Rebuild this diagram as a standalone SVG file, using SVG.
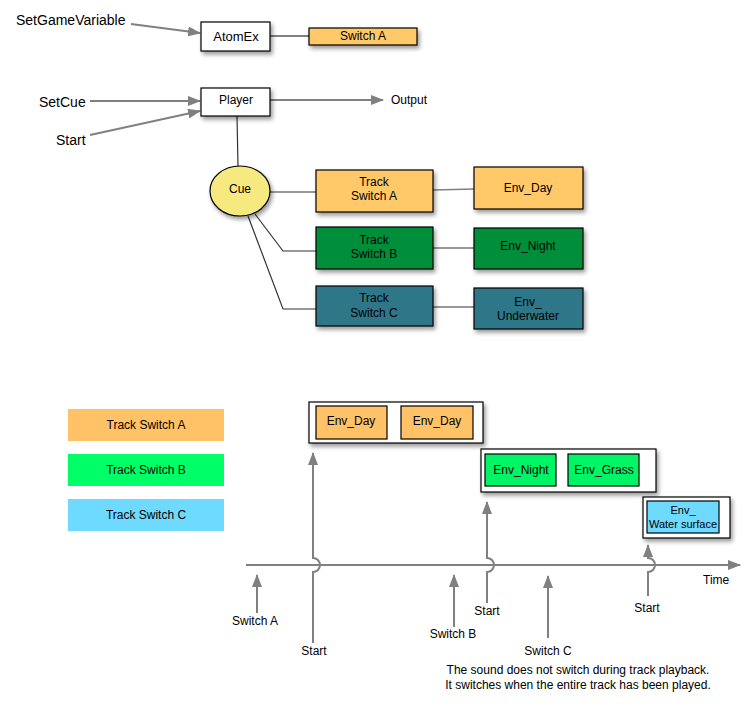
<svg xmlns="http://www.w3.org/2000/svg" width="753" height="708" viewBox="0 0 753 708">
<defs>
<filter id="sh" x="-20%" y="-20%" width="150%" height="170%">
<feDropShadow dx="2" dy="3" stdDeviation="2" flood-color="#000" flood-opacity="0.4"/>
</filter>
<marker id="ah" markerUnits="userSpaceOnUse" markerWidth="13" markerHeight="10" refX="12" refY="5" orient="auto">
<path d="M0,0 L13,5 L0,10 z" fill="#808080"/>
</marker>
<style>
text{font-family:"Liberation Sans",Arial,sans-serif;font-size:12px;fill:#000}
.big{font-size:14px}
.md{font-size:13px}
.sm{font-size:11px}
.c{text-anchor:middle}
.box{stroke:#000;stroke-width:1.2}
.g{stroke:#808080;stroke-width:2;fill:none}
.k{stroke:#333;stroke-width:1.2;fill:none}
.orange{fill:#FFC96B}
.lorange{fill:#FFC266}
</style>
</defs>

<g id="connectors">
<line class="g" x1="131" y1="24" x2="200" y2="33" marker-end="url(#ah)"/>
<line class="g" x1="90" y1="101" x2="200" y2="101" marker-end="url(#ah)"/>
<line class="g" x1="90" y1="135" x2="200" y2="111" marker-end="url(#ah)"/>
<line class="g" x1="270" y1="100" x2="383" y2="100" marker-end="url(#ah)"/>
<line class="g" x1="270" y1="36" x2="309" y2="36"/>
<line class="k" x1="237" y1="116" x2="238" y2="166"/>
<line class="k" x1="270" y1="192" x2="316" y2="192"/>
<polyline class="k" points="255,214 283,251 316,251"/>
<polyline class="k" points="248,216 283,309 316,309"/>
<line class="g" x1="433" y1="190" x2="474" y2="189" style="stroke-width:1.5"/>
<line class="k" x1="433" y1="248" x2="474" y2="248"/>
<line class="k" x1="433" y1="307" x2="474" y2="307"/>
<path class="g" d="M246,565 H740" marker-end="url(#ah)"/>
<path class="g" d="M257,613 V575" marker-end="url(#ah)"/>
<path class="g" d="M454,627 V575" marker-end="url(#ah)"/>
<path class="g" d="M548,638 V576" marker-end="url(#ah)"/>
<path class="g" d="M313,643 V572 a7 7 0 0 0 0,-14 V453" marker-end="url(#ah)"/>
<path class="g" d="M487,603 V572 a7 7 0 0 0 0,-14 V502" marker-end="url(#ah)"/>
<path class="g" d="M648,596 V572 a7 7 0 0 0 0,-14 V545" marker-end="url(#ah)"/>
</g>

<g id="labels">
<text class="big" x="16" y="25">SetGameVariable</text>
<text class="big" x="39" y="107">SetCue</text>
<text class="big" x="56" y="145">Start</text>
<text x="391" y="104">Output</text>
<text x="703" y="584">Time</text>
<text class="c" x="255" y="625">Switch A</text>
<text class="c" x="314" y="655">Start</text>
<text class="c" x="453" y="638">Switch B</text>
<text class="c" x="487" y="615">Start</text>
<text class="c" x="548" y="655">Switch C</text>
<text class="c" x="647" y="612">Start</text>
<text class="c" x="578" y="674">The sound does not switch during track playback.</text>
<text class="c" x="578" y="689">It switches when the entire track has been played.</text>
</g>

<g id="atomex">
<rect class="box" x="201" y="22" width="69" height="29" fill="#fff" filter="url(#sh)"/>
<text class="c md" x="236" y="41">AtomEx</text>
</g>
<g id="switch-a">
<rect class="box orange" x="309" y="28" width="108" height="17" filter="url(#sh)"/>
<text class="c" x="363" y="40">Switch A</text>
</g>
<g id="player">
<rect class="box" x="201" y="88" width="69" height="28" fill="#fff" filter="url(#sh)"/>
<text class="c" x="236" y="104">Player</text>
</g>
<g id="cue">
<ellipse class="box" cx="240" cy="191" rx="30" ry="25" fill="#F6E97F" filter="url(#sh)"/>
<text class="c" x="240" y="193">Cue</text>
</g>
<g id="track-switch-a">
<rect class="box orange" x="316" y="170" width="117" height="42" filter="url(#sh)"/>
<text class="c" x="374" y="186">Track</text>
<text class="c" x="374" y="200">Switch A</text>
</g>
<g id="env-day">
<rect class="box orange" x="474" y="167" width="109" height="42" filter="url(#sh)"/>
<text class="c" x="528" y="192">Env_Day</text>
</g>
<g id="track-switch-b">
<rect class="box" x="316" y="227" width="117" height="42" fill="#008E3B" filter="url(#sh)"/>
<text class="c" x="374" y="244">Track</text>
<text class="c" x="374" y="258">Switch B</text>
</g>
<g id="env-night">
<rect class="box" x="474" y="228" width="109" height="41" fill="#008E3B" filter="url(#sh)"/>
<text class="c" x="528" y="250">Env_Night</text>
</g>
<g id="track-switch-c">
<rect class="box" x="316" y="286" width="117" height="40" fill="#2E7788" filter="url(#sh)"/>
<text class="c" x="374" y="302">Track</text>
<text class="c" x="374" y="317">Switch C</text>
</g>
<g id="env-underwater">
<rect class="box" x="474" y="288" width="109" height="41" fill="#2E7788" filter="url(#sh)"/>
<text class="c" x="528" y="306">Env_</text>
<text class="c" x="528" y="320">Underwater</text>
</g>

<g id="legend-a">
<rect class="lorange" x="68" y="409" width="156" height="32"/>
<text class="c" x="146" y="429">Track Switch A</text>
</g>
<g id="legend-b">
<rect x="68" y="454" width="156" height="32" fill="#00FF66"/>
<text class="c" x="146" y="474">Track Switch B</text>
</g>
<g id="legend-c">
<rect x="68" y="499" width="156" height="32" fill="#6FDAFF"/>
<text class="c" x="146" y="519">Track Switch C</text>
</g>

<g id="track-a-timeline">
<rect class="box" x="309" y="402" width="174" height="41" fill="#fff" filter="url(#sh)"/>
<rect class="box lorange" x="316" y="406" width="71" height="33"/>
<text class="c" x="351" y="425">Env_Day</text>
<rect class="box lorange" x="401" y="406" width="72" height="33"/>
<text class="c" x="437" y="425">Env_Day</text>
</g>
<g id="track-b-timeline">
<rect class="box" x="481" y="449" width="175" height="43" fill="#fff" filter="url(#sh)"/>
<rect class="box" x="485" y="454" width="71" height="32" fill="#00F566"/>
<text class="c" x="521" y="474">Env_Night</text>
<rect class="box" x="568" y="454" width="71" height="32" fill="#00F566"/>
<text class="c" x="604" y="474">Env_Grass</text>
</g>
<g id="track-c-timeline">
<rect class="box" x="643" y="497" width="87" height="41" fill="#fff" filter="url(#sh)"/>
<rect class="box" x="647" y="501" width="72" height="32" fill="#6FDAFF"/>
<text class="c sm" x="683" y="514">Env_</text>
<text class="c sm" x="683" y="528">Water surface</text>
</g>
</svg>
